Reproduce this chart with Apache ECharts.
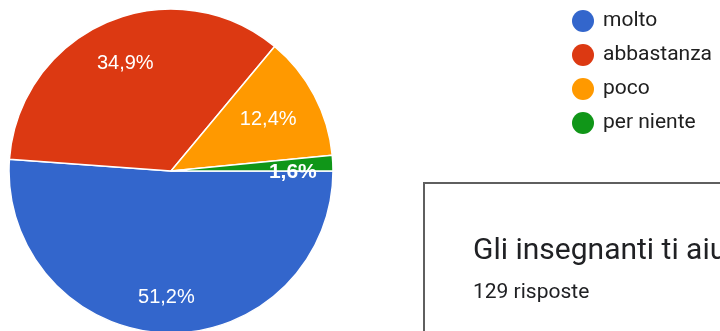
<!DOCTYPE html>
<html>
<head>
<meta charset="utf-8">
<script src="https://cdn.jsdelivr.net/npm/echarts@6/dist/echarts.min.js"></script>
<style>
  html, body { margin: 0; padding: 0; background: #fff; overflow: hidden; }
  #chart { width: 720px; height: 331px; }
</style>
</head>
<body>
<div id="chart"></div>
<script>
// Answers and response counts
const categories = ['molto', 'abbastanza', 'poco', 'per niente'];
const counts = [66, 45, 16, 2];
const colors = ['#3366cc', '#dc3912', '#ff9900', '#109618'];
const questionTitle = 'Gli insegnanti ti aiutano?';
const responsesText = '129 risposte';

// Pie geometry and per-slice label placement (distance from centre, extra vertical shift)
const CX = 171, CY = 171, R = 162;
const labelRadius = [127, 117, 110, 122];
const labelShiftY = [0, 0, 0, 7];

const total = counts.reduce((a, b) => a + b, 0);
const midAngles = [];
let acc = 0;
counts.forEach(v => {
  const start = acc / total * 2 * Math.PI;
  acc += v;
  const end = acc / total * 2 * Math.PI;
  midAngles.push((start + end) / 2);
});

// Percentages rounded individually, written with a decimal comma
const pctText = v => (Math.round(v / total * 1000) / 10).toFixed(1).replace('.', ',') + '%';

const chart = echarts.init(document.getElementById('chart'), null, { renderer: 'canvas' });

chart.setOption({
  animation: false,
  color: colors,
  legend: {
    orient: 'vertical',
    left: 572,
    top: 10,
    padding: 0,
    itemWidth: 22,
    itemHeight: 22,
    itemGap: 12,
    icon: 'circle',
    selectedMode: false,
    itemStyle: { borderWidth: 0 },
    textStyle: {
      fontFamily: 'Roboto',
      fontSize: 21,
      color: '#202020',
      padding: [0, 0, 0, 4]
    },
    data: categories
  },
  graphic: [
    {
      type: 'rect',
      shape: { x: 424, y: 183, width: 400, height: 300 },
      style: { fill: '#ffffff', stroke: '#5f5f5f', lineWidth: 2 },
      z: 0
    },
    {
      type: 'text',
      x: 473,
      y: 236,
      style: {
        text: questionTitle,
        fontFamily: 'Roboto',
        fontSize: 30,
        fill: '#202124',
        verticalAlign: 'top'
      },
      z: 1
    },
    {
      type: 'text',
      x: 473,
      y: 282,
      style: {
        text: responsesText,
        fontFamily: 'Roboto',
        fontSize: 21,
        fill: '#202124',
        verticalAlign: 'top'
      },
      z: 1
    }
  ],
  series: [
    {
      type: 'pie',
      center: [CX, CY],
      radius: [0, R],
      startAngle: 0,
      clockwise: true,
      avoidLabelOverlap: false,
      itemStyle: { borderColor: '#ffffff', borderWidth: 1.5 },
      emphasis: { disabled: true },
      label: {
        show: true,
        position: 'inside',
        color: '#ffffff',
        fontFamily: 'Liberation Sans',
        fontSize: 20,
        formatter: p => pctText(p.value)
      },
      labelLine: { show: false },
      labelLayout: params => {
        const i = params.dataIndex;
        const a = midAngles[i];
        return {
          x: CX + labelRadius[i] * Math.cos(a),
          y: CY + labelRadius[i] * Math.sin(a) + labelShiftY[i],
          align: 'center',
          verticalAlign: 'middle'
        };
      },
      data: categories.map((name, i) => {
        const item = { name: name, value: counts[i] };
        if (i === 3) {
          item.label = { fontWeight: 'bold', fontSize: 21 };
        }
        return item;
      })
    }
  ]
});
</script>
</body>
</html>
